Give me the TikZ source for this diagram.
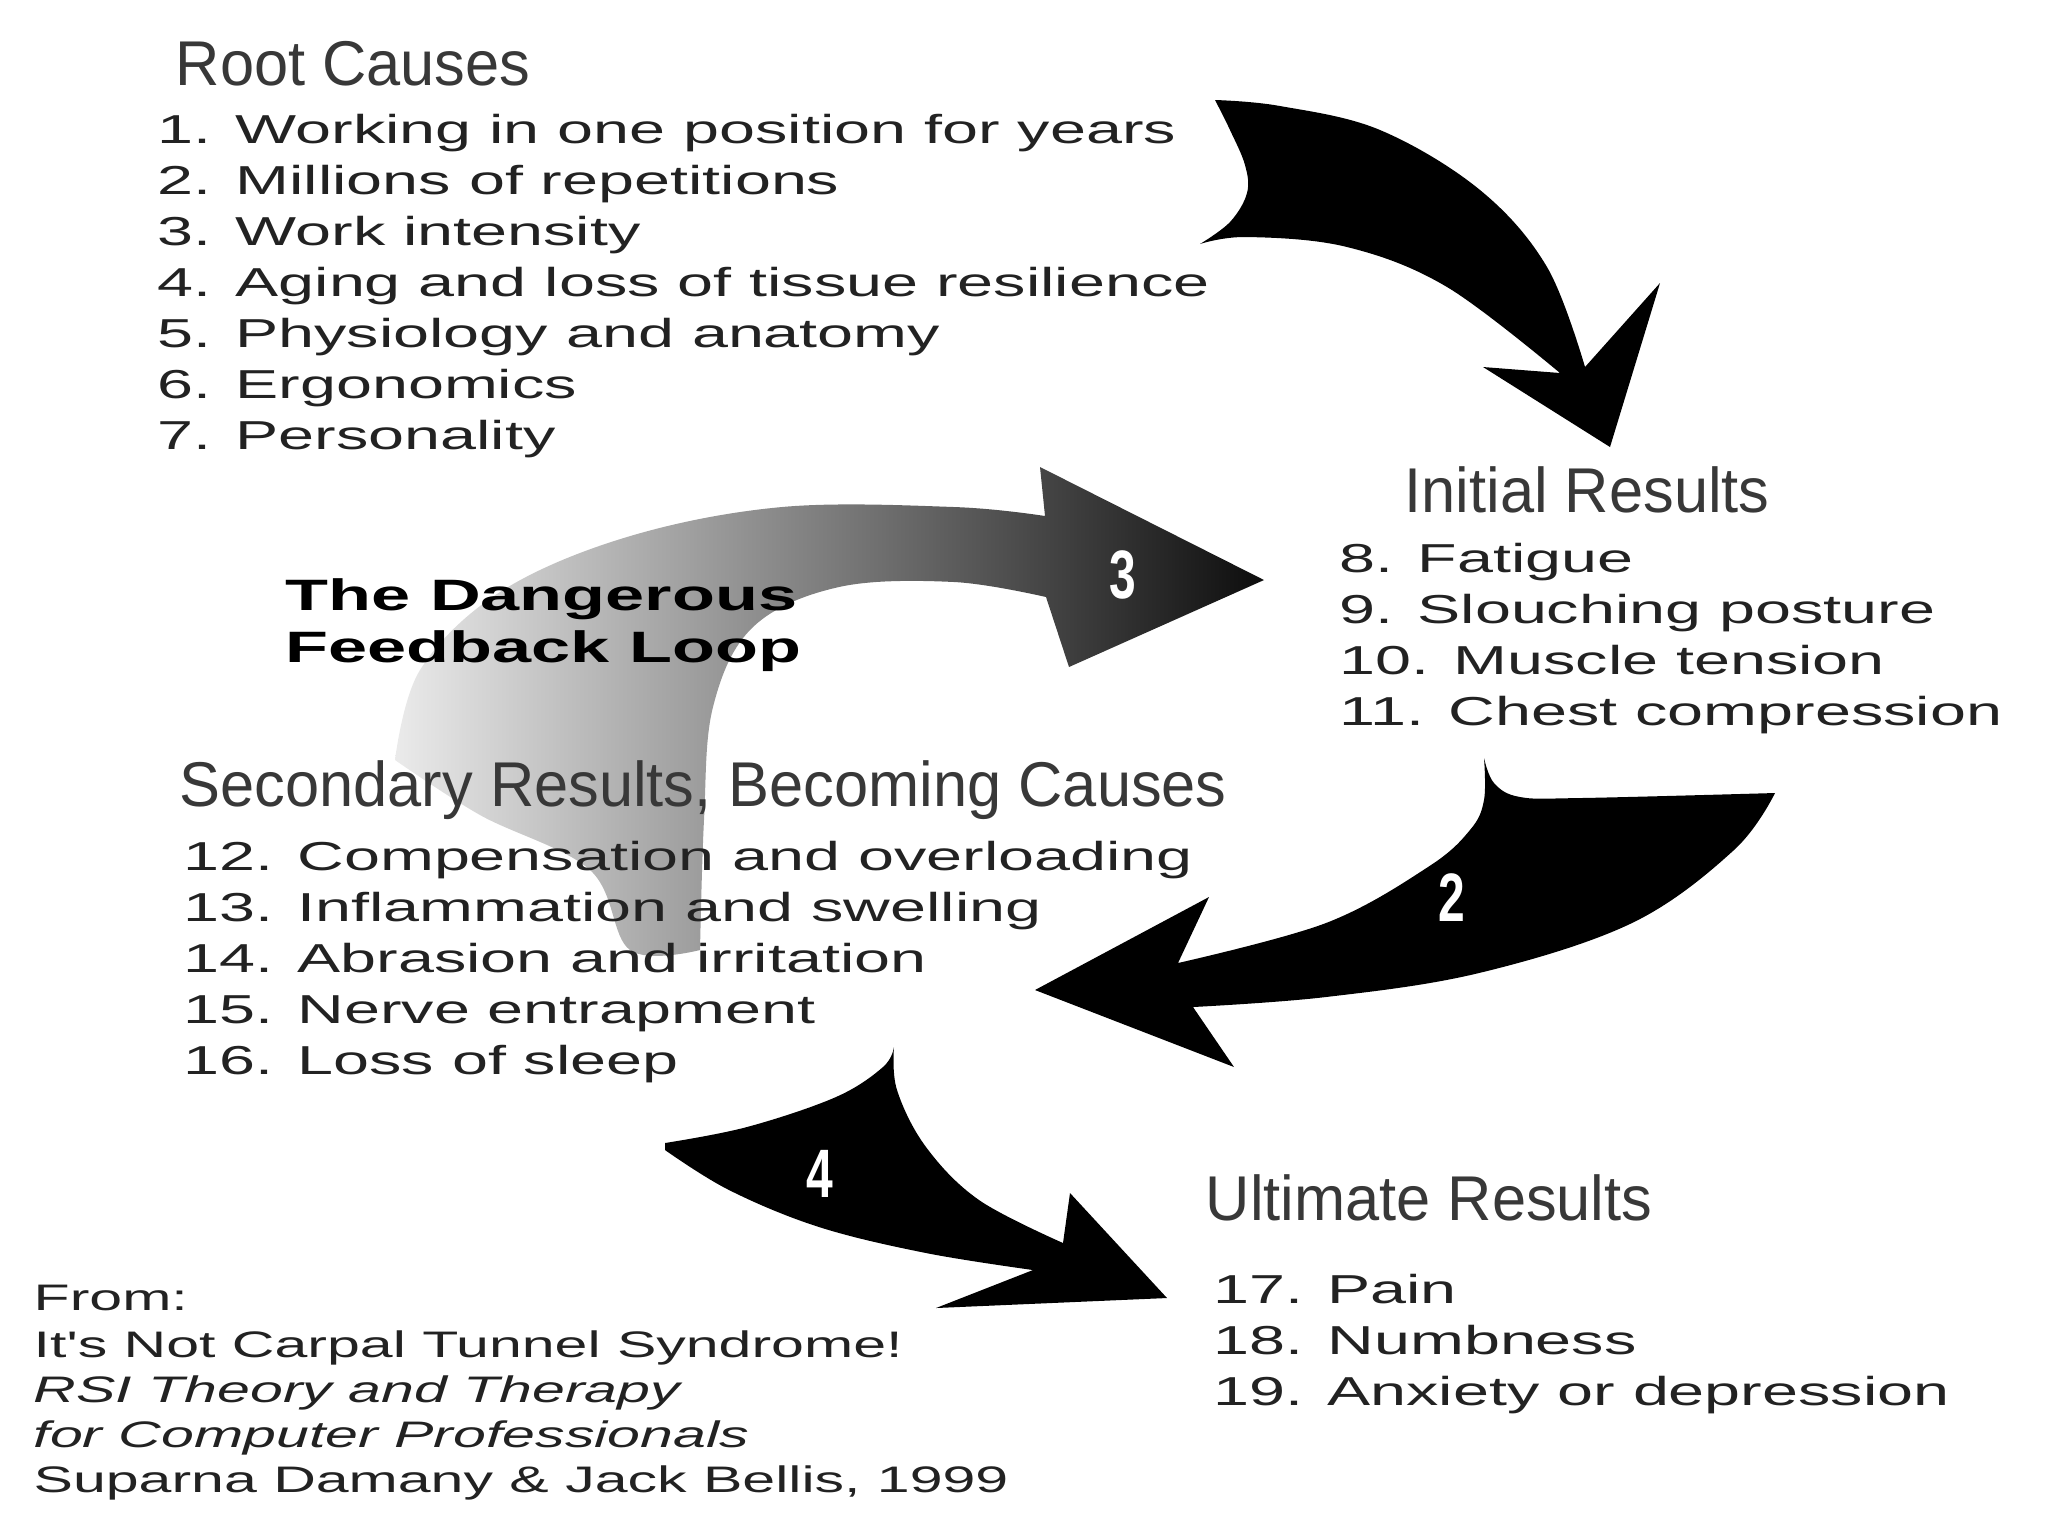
\documentclass[tikz,border=0pt]{standalone}
\usepackage{fontspec}
\setmainfont{Liberation Sans}
\newfontfamily\headfont[FakeStretch=0.97]{Liberation Sans}
\newfontfamily\itemfont[FakeStretch=1.6]{Liberation Sans}
\newfontfamily\numfont[FakeStretch=0.7]{Liberation Sans}
\definecolor{LoopInk}{HTML}{222222}
\definecolor{LoopHead}{HTML}{383838}
\tikzset{
  headtext/.style={anchor=base west,inner sep=0pt,text=LoopHead,font=\headfont\fontsize{18}{20}\selectfont},
  itemtext/.style={anchor=base west,inner sep=0pt,text=LoopInk,font=\itemfont\fontsize{11.5}{14}\selectfont},
  looptitle/.style={anchor=base west,inner sep=0pt,text=black,font=\itemfont\bfseries\fontsize{12.5}{15}\selectfont},
  sourcetext/.style={anchor=base west,inner sep=0pt,text=LoopInk,font=\itemfont\fontsize{10.5}{12}\selectfont},
  bigarrow/.style={fill=black,draw=none},
  loopnum/.style={inner sep=0pt,text=white,font=\numfont\bfseries\fontsize{19.5}{20}\selectfont}
}

\begin{document}
\begin{tikzpicture}[x=0.1mm,y=-0.1mm]
\useasboundingbox (0,0) rectangle (2048,1536);
% feedback arrow, faded
\shade[left color=black!8,right color=black!95]
  (395,760)
  -- plot[smooth,tension=0.6] coordinates {(395,760) (420,670) (500,592) (627,537) (782,507) (954,507) (1045,516)}
  -- (1040,467) -- (1264,580) -- (1069,667) -- (1046,597)
  -- plot[smooth,tension=0.6] coordinates {(1046,597) (954,582) (839,587) (753,627) (713,707) (704,820) (700,950)}
  -- plot[smooth,tension=0.6] coordinates {(700,950) (630,950) (590,870) (480,815) (395,760)}
  -- cycle;

\node[headtext] (roothead) at (175,85) {Root Causes};
\foreach \txt [count=\i] in {1. Working in one position for years,2. Millions of repetitions,3. Work intensity,4. Aging and loss of tissue resilience,5. Physiology and anatomy,6. Ergonomics,7. Personality}
  \node[itemtext] (root\i) at (157,{143+51*(\i-1)}) {\txt};

\node[headtext] (inithead) at (1404,512) {Initial Results};
\foreach \txt [count=\i] in {8. Fatigue,9. Slouching posture,10. Muscle tension,11. Chest compression}
  \node[itemtext] (init\i) at (1339,{572+51*(\i-1)}) {\txt};

\node[looptitle] (title1) at (285,610) {The Dangerous};
\node[looptitle] (title2) at (285,662) {Feedback Loop};

\node[headtext] (sechead) at (179,806) {Secondary Results, Becoming Causes};
\foreach \txt [count=\i] in {12. Compensation and overloading,13. Inflammation and swelling,14. Abrasion and irritation,15. Nerve entrapment,16. Loss of sleep}
  \node[itemtext] (sec\i) at (183,{870+51*(\i-1)}) {\txt};

\node[headtext] (ulthead) at (1205,1220) {Ultimate Results};
\foreach \txt [count=\i] in {17. Pain,18. Numbness,19. Anxiety or depression}
  \node[itemtext] (ult\i) at (1213,{1303+51*(\i-1)}) {\txt};

% source
\node[sourcetext] (src1) at (33,1310) {From:};
\node[sourcetext] (src2) at (33,1357) {It's Not Carpal Tunnel Syndrome!};
\node[sourcetext,font=\itemfont\itshape\fontsize{10.5}{12}\selectfont] (src3) at (33,1402) {RSI Theory and Therapy};
\node[sourcetext,font=\itemfont\itshape\fontsize{10.5}{12}\selectfont] (src4) at (33,1447) {for Computer Professionals};
\node[sourcetext] (src5) at (33,1492) {Suparna Damany \& Jack Bellis, 1999};

% arrow 1
\fill[bigarrow] (1215,100)
  -- plot[smooth,tension=0.6] coordinates {(1215,100) (1280,106) (1380,130) (1480,190) (1547,267) (1585,367)}
  -- (1660,283) -- (1610,447) -- (1483,367) -- (1560,373)
  -- plot[smooth,tension=0.6] coordinates {(1560,373) (1447,287) (1347,247) (1247,237) (1200,244)}
  -- plot[smooth,tension=0.6] coordinates {(1200,244) (1230,222) (1247,193) (1245,165) (1230,130) (1215,100)}
  -- cycle;
% arrow 2
\fill[bigarrow] (1484,758)
  -- plot[smooth,tension=0.6] coordinates {(1484,758) (1494,783) (1520,797) (1581,798) (1775,793)}
  -- plot[smooth,tension=0.6] coordinates {(1775,793) (1734,850) (1632,923) (1479,973) (1326,997) (1193,1007)}
  -- (1234,1067) -- (1035,990) -- (1209,897) -- (1178,963)
  -- plot[smooth,tension=0.6] coordinates {(1178,963) (1326,923) (1428,867) (1470,830) (1484,800) (1484,758)}
  -- cycle;
% arrow 4
\fill[bigarrow] (665,1143)
  -- plot[smooth,tension=0.6] coordinates {(665,1143) (747,1127) (836,1097) (883,1067) (894,1047)}
  -- plot[smooth,tension=0.6] coordinates {(894,1047) (897,1090) (926,1147) (979,1200) (1063,1243)}
  -- (1070,1193) -- (1167,1298) -- (936,1308) -- (1033,1270)
  -- plot[smooth,tension=0.6] coordinates {(1033,1270) (926,1253) (819,1227) (729,1190) (665,1150)}
  -- cycle;

\node[loopnum] (num2) at (1452,898) {2};
\node[loopnum] (num3) at (1123,575) {3};
\node[loopnum] (num4) at (820,1174) {4};
\end{tikzpicture}
\end{document}
